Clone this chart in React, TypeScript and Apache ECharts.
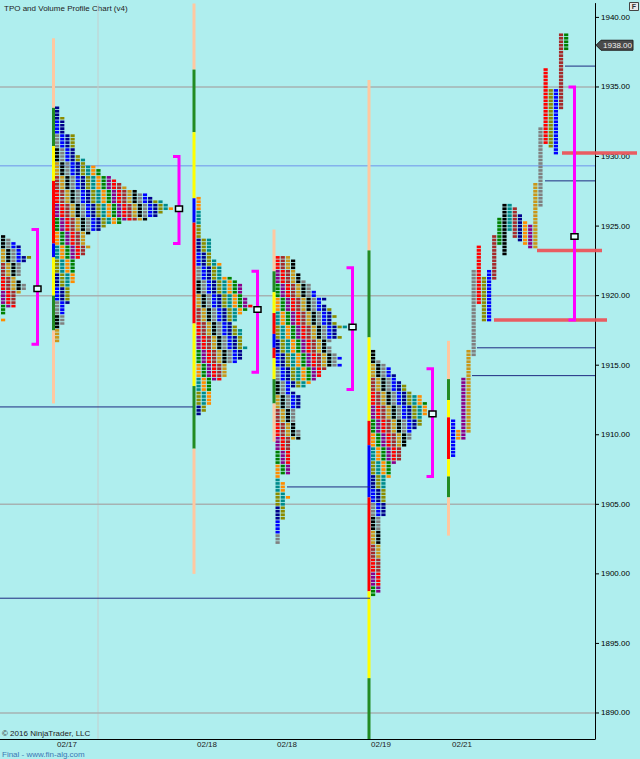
import React, { useEffect, useRef } from "react";
import * as echarts from "echarts";

// ---------------- DATA ----------------
const Y_MIN = 1888.13;
const Y_MAX = 1941.0;
const yTickValues = [1890, 1895, 1900, 1905, 1910, 1915, 1920, 1925, 1930, 1935, 1940];
const dateLabels = ["02/17", "02/18", "02/18", "02/19", "02/21"];
const lastPrice = 1938.0;
const titleText = "TPO and Volume Profile Chart (v4)";
const copyrightText = "\u00A9 2016 NinjaTrader, LLC";
const footerText = "Final - www.fin-alg.com";

// Collapsed TPO profiles: top price, then run-length rows [cells, rowCount], one row = 0.25 pt
const profileATop = 1924.25;
const profileARows = [[1, 1], [2, 1], [3, 1], [4, 3], [6, 1], [5, 1], [4, 4], [3, 1], [4, 1], [5, 2], [4, 1], [3, 4], [1, 2], [0, 1], [1, 1]];
const profileBTop = 1933.5;
const profileBRows = [[1, 3], [2, 5], [4, 6], [5, 1], [6, 2], [8, 1], [9, 2], [11, 1], [12, 1], [13, 1], [14, 1], [16, 1], [18, 1], [19, 1], [21, 1], [22, 1], [23, 1], [21, 1], [20, 1], [18, 1], [13, 1], [10, 1], [9, 1], [7, 1], [6, 3], [7, 1], [6, 2], [5, 1], [4, 7], [3, 6], [2, 6], [1, 5]];
const profileCTop = 1927.0;
const profileCRows = [[1, 12], [3, 6], [4, 1], [5, 4], [7, 1], [8, 1], [9, 4], [10, 2], [11, 1], [10, 1], [9, 1], [8, 2], [7, 1], [8, 1], [9, 5], [10, 1], [9, 3], [8, 1], [6, 4], [5, 1], [3, 7], [2, 2], [1, 1]];
const profileDTop = 1922.75;
const profileDRows = [[3, 1], [4, 4], [5, 2], [6, 1], [7, 2], [8, 2], [10, 1], [9, 1], [10, 1], [11, 2], [12, 1], [11, 1], [12, 1], [14, 1], [12, 2], [13, 1], [11, 1], [10, 1], [11, 2], [12, 1], [13, 1], [12, 1], [13, 1], [10, 1], [9, 2], [8, 1], [7, 1], [6, 1], [3, 1], [4, 1], [5, 4], [4, 6], [5, 3], [3, 10], [1, 2], [2, 4], [3, 1], [2, 6], [1, 7]];
const profileETop = 1916.0;
const profileERows = [[1, 3], [2, 1], [3, 1], [4, 2], [5, 2], [6, 1], [7, 2], [8, 1], [10, 2], [11, 4], [10, 3], [9, 1], [8, 3], [7, 2], [6, 4], [5, 1], [4, 4], [3, 11], [2, 22], [1, 1]];

// Split profile (02/21): one column per period
const splitHigh = [1911.0, 1910.25, 1914.0, 1916.0, 1921.75, 1923.5, 1921.25, 1921.75, 1924.25, 1925.5, 1926.5, 1926.5, 1926.25, 1925.75, 1925.25, 1925.0, 1928.0, 1932.0, 1936.25, 1934.75, 1934.75, 1938.75, 1938.75];
const splitLow = [1908.5, 1909.75, 1909.75, 1910.25, 1915.75, 1919.5, 1918.25, 1918.25, 1921.25, 1923.75, 1923.0, 1924.75, 1924.25, 1924.0, 1923.75, 1923.5, 1923.5, 1926.5, 1931.0, 1930.75, 1930.25, 1933.5, 1937.75];
const splitColors = ["blue", "orange", "purple", "gold", "gray", "red", "olive", "blue", "brown", "green", "black", "teal", "brown", "navy", "orange", "purple", "gold", "gray", "red", "olive", "blue", "brown", "green"];

// Session range bars: [top, bottom, colour]
const barB = [[1938.5, 1933.5, "peach"], [1933.5, 1930.75, "bgreen"], [1930.75, 1928.25, "yellow"], [1928.25, 1923.75, "red"], [1923.75, 1922.75, "blue"], [1922.75, 1920.0, "yellow"], [1920.0, 1917.5, "bgreen"], [1917.5, 1912.25, "peach"]];
const barC = [[1941.0, 1936.25, "peach"], [1936.25, 1931.75, "bgreen"], [1931.75, 1927.0, "yellow"], [1927.0, 1925.25, "blue"], [1925.25, 1918.0, "red"], [1918.0, 1913.5, "yellow"], [1913.5, 1909.0, "bgreen"], [1909.0, 1900.0, "peach"]];
const barD = [[1924.75, 1921.75, "peach"], [1921.75, 1920.25, "bgreen"], [1920.25, 1918.75, "yellow"], [1918.75, 1917.25, "red"], [1917.25, 1916.25, "blue"], [1916.25, 1915.5, "red"], [1915.5, 1914.0, "yellow"], [1914.0, 1912.25, "bgreen"], [1912.25, 1909.5, "peach"]];
const barE = [[1935.5, 1923.25, "peach"], [1923.25, 1917.0, "bgreen"], [1917.0, 1911.0, "yellow"], [1911.0, 1909.25, "red"], [1909.25, 1905.5, "blue"], [1905.5, 1898.75, "red"], [1898.75, 1892.5, "yellow"], [1892.5, 1888.13, "bgreen"]];
const barG = [[1916.75, 1914.0, "peach"], [1914.0, 1912.5, "bgreen"], [1912.5, 1911.25, "yellow"], [1911.25, 1908.25, "red"], [1908.25, 1907.0, "yellow"], [1907.0, 1905.5, "bgreen"], [1905.5, 1902.75, "peach"]];

// Value areas: [VA high, VA low, POC]
const valueAreas = [[1924.75, 1916.5, 1920.5], [1930.0, 1923.75, 1926.25], [1921.75, 1914.5, 1919.0], [1922.0, 1913.25, 1917.75], [1914.75, 1907.0, 1911.5], [1935.0, 1918.25, 1924.25]];

// Reference levels
const nakedPocPrices = [1912.0, 1898.25, 1906.25, 1936.5, 1928.25, 1916.25, 1914.25];
const redLevelPrices = [1930.25, 1923.25, 1918.25];
const greyLevelPrices = [1935, 1920, 1905, 1890];
const blueLevelPrice = 1929.33;

// ---------------- LAYOUT / STYLE ----------------
const L = {
  profileLeft: [1, 55, 196.5, 275.5, 371],
  pitch: 5.17,
  cellW: 4.2,
  splitLeft: 451,
  splitPitch: 5.14,
  barX: [53.5, 194, 274, 369, 448.5],
  vaX: [37.5, 179, 257.5, 352.5, 432.5, 574.5],
  nakedSpan: [[0, 193], [0, 370], [287, 370], [565, 595], [545, 595], [477, 595], [472, 595]],
  redSpan: [[562, 637], [537, 602], [494, 607]],
  dateX: [67, 207, 287, 381, 462],
  vGridX: 98,
  xMax: 595,
  priceTagX: 596,
};
const FONT = "'Liberation Sans', Arial, sans-serif";
const COLORS: Record<string, string> = {
  black: "#000000", teal: "#008B8B", brown: "#A52A2A", navy: "#00008B", purple: "#8B008B",
  gray: "#808080", orange: "#FF8C00", gold: "#C9961A", olive: "#8B8B00", red: "#FF0000",
  blue: "#0000FF", green: "#008000", peach: "#FFC8A0", bgreen: "#228B22", yellow: "#FFFF00",
};
const mosaic = ["black", "teal", "brown", "navy", "purple", "gray", "orange", "gold", "olive", "red", "blue", "green"];

export default function App() {
  const ref = useRef<HTMLDivElement>(null);
  useEffect(() => {
    const chart = echarts.init(ref.current!, undefined, { renderer: "svg" });

    const profiles = [
      { top: profileATop, rows: profileARows },
      { top: profileBTop, rows: profileBRows },
      { top: profileCTop, rows: profileCRows },
      { top: profileDTop, rows: profileDRows },
      { top: profileETop, rows: profileERows },
    ];
    const cellData: number[][] = [];
    profiles.forEach((pf, pi) => {
      let price = pf.top;
      let r = 0;
      pf.rows.forEach(([w, n]) => {
        for (let k = 0; k < n; k++) {
          for (let c = 0; c < w; c++) {
            const ci = (c * 5 + Math.floor(r / 4) * 7 + pi * 3) % mosaic.length;
            cellData.push([L.profileLeft[pi] + c * L.pitch, price, ci]);
          }
          price -= 0.25;
          r++;
        }
      });
    });
    splitHigh.forEach((hi, i) => {
      const lo = splitLow[i];
      for (let p = hi; p >= lo - 1e-6; p -= 0.25) {
        cellData.push([L.splitLeft + i * L.splitPitch, p, mosaic.indexOf(splitColors[i])]);
      }
    });

    const barKeys = ["peach", "bgreen", "yellow", "red", "blue"];
    const barData: number[][] = [];
    [barB, barC, barD, barE, barG].forEach((segs, bi) => {
      segs.forEach((s) => barData.push([L.barX[bi], s[0] as number, s[1] as number, barKeys.indexOf(s[2] as string)]));
    });

    // background levels: [x1, x2, price, kind]  kind 0 grey, 1 blue
    const bgLines: number[][] = [];
    greyLevelPrices.forEach((p) => bgLines.push([0, L.xMax, p, 0]));
    bgLines.push([0, L.xMax, blueLevelPrice, 1]);

    const fgLines: number[][] = [];
    nakedPocPrices.forEach((p, i) => fgLines.push([L.nakedSpan[i][0], L.nakedSpan[i][1], p, 0]));
    redLevelPrices.forEach((p, i) => fgLines.push([L.redSpan[i][0], L.redSpan[i][1], p, 1]));

    const vaData = valueAreas.map((v, i) => [L.vaX[i], v[0], v[1], v[2]]);
    const tickData = yTickValues.map((v) => [L.xMax, v]);

    const option: any = {
      animation: false,
      backgroundColor: "#AFEEEE",
      textStyle: { fontFamily: FONT },
      grid: { left: 0, right: 45, top: 3.5, bottom: 20 },
      xAxis: {
        type: "value",
        min: 0,
        max: L.xMax,
        axisLine: { show: true, onZero: false, lineStyle: { color: "#000", width: 1 } },
        axisTick: { show: false },
        splitLine: { show: false },
        axisLabel: {
          customValues: L.dateX,
          formatter: (v: number) => {
            const i = L.dateX.findIndex((x) => Math.abs(x - v) < 0.5);
            return i >= 0 ? dateLabels[i] : "";
          },
          fontSize: 8,
          color: "#222",
          margin: 1.5,
          fontFamily: FONT,
        },
      },
      yAxis: {
        type: "value",
        position: "right",
        min: Y_MIN,
        max: Y_MAX,
        axisLine: { show: true, onZero: false, lineStyle: { color: "#000", width: 1 } },
        axisTick: { show: false },
        splitLine: { show: false },
        axisLabel: {
          customValues: yTickValues,
          formatter: (v: number) => v.toFixed(2),
          fontSize: 8,
          color: "#000",
          margin: 6,
          fontFamily: FONT,
        },
      },
      graphic: [
        { type: "text", x: 4, y: 4, style: { text: titleText, fontSize: 8, fill: "#222", fontFamily: FONT } },
        { type: "text", x: 2, y: 729, style: { text: copyrightText, fontSize: 8, fill: "#222", fontFamily: FONT } },
        { type: "text", x: 2, y: 750, style: { text: footerText, fontSize: 8, fill: "#3C78B4", fontFamily: FONT } },
        { type: "rect", shape: { x: 629.5, y: 2.5, width: 9, height: 8 }, style: { fill: "#E8E8E8", stroke: "#444", lineWidth: 1 } },
        { type: "text", x: 634, y: 6.8, style: { text: "F", fontSize: 7, fontWeight: "bold", fill: "#333", align: "center", verticalAlign: "middle", fontFamily: FONT } },
      ],
      series: [
        {
          type: "custom",
          name: "grid",
          coordinateSystem: "cartesian2d",
          z: 1,
          clip: false,
          data: bgLines,
          renderItem: (params: any, api: any) => {
            const a = api.coord([api.value(0), api.value(2)]);
            const b = api.coord([api.value(1), api.value(2)]);
            const kind = api.value(3);
            const children: any[] = [
              {
                type: "line",
                shape: { x1: a[0], y1: a[1], x2: b[0], y2: b[1] },
                style: kind === 0 ? { stroke: "#A6B2B2", lineWidth: 1.5 } : { stroke: "#6F93EC", lineWidth: 1 },
              },
            ];
            if (params.dataIndex === 0) {
              const t = api.coord([L.vGridX, Y_MAX]);
              const bt = api.coord([L.vGridX, Y_MIN]);
              children.push({ type: "line", shape: { x1: t[0], y1: t[1], x2: bt[0], y2: bt[1] }, style: { stroke: "#C4CECE", lineWidth: 1 } });
            }
            return { type: "group", children };
          },
        },
        {
          type: "custom",
          name: "tpo",
          coordinateSystem: "cartesian2d",
          z: 2,
          clip: false,
          progressive: 0,
          data: cellData,
          renderItem: (params: any, api: any) => {
            const x = api.value(0);
            const p = api.value(1);
            const a = api.coord([x, p + 0.125]);
            const b = api.coord([x + L.cellW, p - 0.125]);
            return {
              type: "rect",
              shape: { x: a[0], y: a[1] + 0.4, width: b[0] - a[0], height: b[1] - a[1] - 0.8 },
              style: { fill: COLORS[mosaic[api.value(2)]] },
            };
          },
        },
        {
          type: "custom",
          name: "range",
          coordinateSystem: "cartesian2d",
          z: 3,
          clip: false,
          data: barData,
          renderItem: (params: any, api: any) => {
            const a = api.coord([api.value(0) - 1.5, api.value(1)]);
            const b = api.coord([api.value(0) + 1.5, api.value(2)]);
            return {
              type: "rect",
              shape: { x: a[0], y: a[1], width: b[0] - a[0], height: b[1] - a[1] },
              style: { fill: COLORS[barKeys[api.value(3)]] },
            };
          },
        },
        {
          type: "custom",
          name: "levels",
          coordinateSystem: "cartesian2d",
          z: 4,
          clip: false,
          data: fgLines,
          renderItem: (params: any, api: any) => {
            const a = api.coord([api.value(0), api.value(2)]);
            const b = api.coord([api.value(1), api.value(2)]);
            const kind = api.value(3);
            return {
              type: "line",
              shape: { x1: a[0], y1: a[1], x2: b[0], y2: b[1] },
              style: kind === 0 ? { stroke: "#1E2A80", lineWidth: 1 } : { stroke: "#EE4F55", lineWidth: 3.5, opacity: 0.92 },
            };
          },
        },
        {
          type: "custom",
          name: "valueArea",
          coordinateSystem: "cartesian2d",
          z: 5,
          clip: false,
          data: vaData,
          renderItem: (params: any, api: any) => {
            const x = api.value(0);
            const top = api.coord([x, api.value(1)]);
            const bot = api.coord([x, api.value(2)]);
            const poc = api.coord([x, api.value(3)]);
            return {
              type: "group",
              children: [
                {
                  type: "polyline",
                  shape: { points: [[top[0] - 6, top[1]], [top[0], top[1]], [bot[0], bot[1]], [bot[0] - 6, bot[1]]] },
                  style: { stroke: "#FF00FF", lineWidth: 3, fill: null },
                },
                {
                  type: "rect",
                  shape: { x: poc[0] - 3.5, y: poc[1] - 2.8, width: 7, height: 5.6 },
                  style: { fill: "#E6FFFF", stroke: "#000", lineWidth: 1.5 },
                },
              ],
            };
          },
        },
        {
          type: "custom",
          name: "yTicks",
          coordinateSystem: "cartesian2d",
          z: 6,
          clip: false,
          data: tickData,
          renderItem: (params: any, api: any) => {
            const p = api.coord([api.value(0), api.value(1)]);
            return { type: "line", shape: { x1: p[0], y1: p[1], x2: p[0] + 4, y2: p[1] }, style: { stroke: "#000", lineWidth: 1 } };
          },
        },
        {
          type: "custom",
          name: "lastPrice",
          coordinateSystem: "cartesian2d",
          z: 7,
          clip: false,
          data: [[L.priceTagX, lastPrice]],
          renderItem: (params: any, api: any) => {
            const pt = api.coord([api.value(0), api.value(1)]);
            const x0 = pt[0];
            const y = pt[1];
            return {
              type: "group",
              children: [
                {
                  type: "polygon",
                  shape: { points: [[x0, y], [x0 + 5, y - 5], [x0 + 37, y - 5], [x0 + 37, y + 5], [x0 + 5, y + 5]] },
                  style: { fill: "#4A4A4A", stroke: "#222", lineWidth: 1 },
                },
                {
                  type: "text",
                  style: { text: lastPrice.toFixed(2), x: x0 + 21.5, y: y, align: "center", verticalAlign: "middle", fill: "#F0F0F0", fontSize: 8, fontFamily: FONT },
                },
              ],
            };
          },
        },
      ],
    };
    chart.setOption(option);
    return () => chart.dispose();
  }, []);
  return <div ref={ref} style={{ position: "fixed", left: 0, top: 0, width: 640, height: 759, background: "#AFEEEE" }} />;
}
